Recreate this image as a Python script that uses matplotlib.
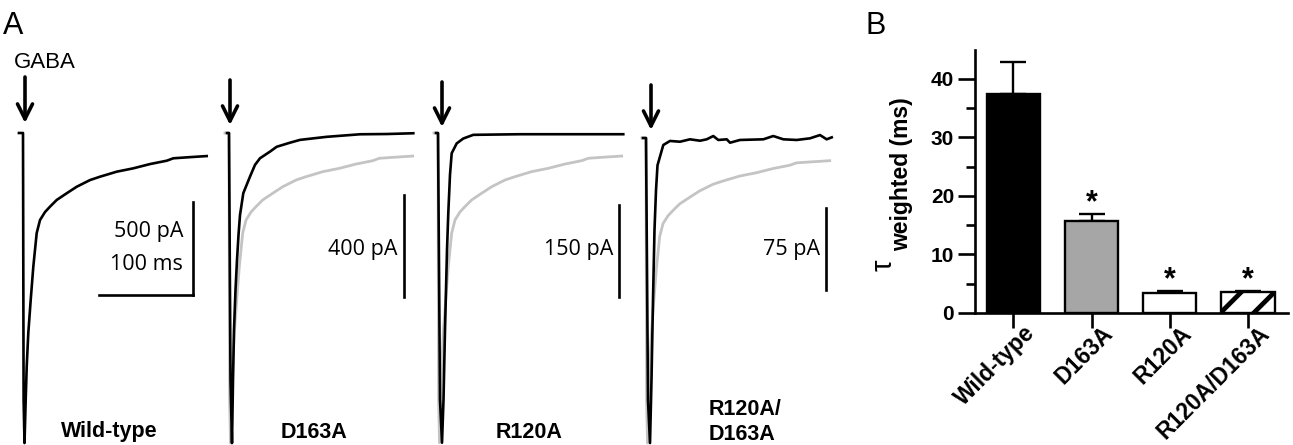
import matplotlib.pyplot as plt
import matplotlib.transforms as mtransforms
import numpy as np

W, H = 1293, 445

# ---- panel A: GABA-evoked currents (time in ms from onset, current in pA)
wt_t = [-4.3, 0, 0.64, 1.6, 2.87, 3.94, 5.64, 8.19, 10.96, 14.57, 18.09, 23.4, 28.72,
        35.85, 46.49, 57.13, 71.28, 81.91, 99.68, 117.3, 135.1, 152.9, 159.9, 174.1, 195.4]
wt_i = [0, 0, -1435, -1667, -1435, -1256, -1075, -898, -719, -538, -468, -425, -396,
        -360, -324, -289, -253, -235, -208, -190, -167, -149, -136, -131, -124]

d163a_t = [-2.13, 0, 1.6, 3.19, 4.26, 5.32, 6.91, 8.51, 10.11, 11.7, 15.21, 22.34, 27.66,
           32.98, 43.62, 50.74, 64.89, 75.53, 103.9, 139.4, 167.8, 196.1]
d163a_i = [0, 0, -969, -1216, -969, -773, -616, -498, -400, -322, -236, -171, -125,
           -99, -73, -54, -38, -27, -15, -5, -4, -1]

r120a_t = [-2.13, 0, 2.13, 4.26, 5.85, 7.45, 9.57, 10.96, 12.77, 14.57, 19.89, 26.91,
           37.55, 87.23, 197.1]
r120a_i = [0, 0, -435, -505, -435, -321, -191, -130, -68, -33, -17, -9, -3, -2, -2]

double_t = [-3.19, 0, 2.13, 4.26, 5.85, 7.45, 9.04, 10.64, 12.23, 14.89, 18.4, 25.53,
            36.17, 46.81, 57.45, 64.57, 71.6, 76.9, 85.9, 89.4, 100, 124.8, 135.4,
            146.1, 160.3, 174.5, 185.1, 192.2, 197.6]
double_i = [0, 0, -240, -279, -221, -148, -84, -48, -25, -17, -6.4, -2.7,
            -3.4, -1.2, -2.5, -1.2, 1.8, -1.8, -1.2, -4.3, -1.8, -1.2, 1.8,
            -1.2, -1.8, -0.3, 2.7, -1.2, 0.6]

trace_names = ["Wild-type", "D163A", "R120A", "R120A/\nD163A"]
scale_pa = [500, 400, 150, 75]
scale_ms = 100

# ---- panel B: weighted decay time constants
groups = ["Wild-type", "D163A", "R120A", "R120A/D163A"]
tau_mean = [37.5, 15.8, 3.5, 3.6]
tau_sem = [5.4, 1.1, 0.2, 0.2]
signif = [False, True, True, True]

plt.rcParams['font.family'] = ['Liberation Sans', 'DejaVu Sans']
plt.rcParams['hatch.linewidth'] = 3.4

fig = plt.figure(figsize=(W / 100, H / 100), dpi=100)


def px_axes(left, top, width, height):
    return fig.add_axes([left / W, 1 - (top + height) / H, width / W, height / H])


# layout of the four recordings (pixel onset, pixel baseline, pixel length of pA bar)
onset_px = [23, 229, 438, 646]
base_px = [133, 133, 133, 138]
bar_px = [93, 102, 92, 82]
bar_t = [181, 186, 192.6, 191.5]
bar_low_px = [295, 297, 297, 290]
ms_per_px = 1 / 0.94

traces = [(wt_t, wt_i), (d163a_t, d163a_i), (r120a_t, r120a_i), (double_t, double_i)]
wt_peak = min(wt_i)
for k, (tt, ii) in enumerate(traces):
    pa_per_px = scale_pa[k] / bar_px[k]
    ax = px_axes(onset_px[k] - 12, 60, 230, H - 60)
    ax.set_xlim(-12 * ms_per_px, 218 * ms_per_px)
    ax.set_ylim(-(H - base_px[k]) * pa_per_px, (base_px[k] - 60) * pa_per_px)
    ax.axis('off')
    if k > 0:
        # wild-type trace scaled to this mutant's peak
        grey = np.array(wt_i) * min(ii) / wt_peak
        ax.plot(wt_t, grey, color='#c4c4c4', lw=2.0, zorder=1)
    ax.plot(tt, ii, color='black', lw=1.9, zorder=2, solid_joinstyle='round')
    low = -(bar_low_px[k] - base_px[k]) * pa_per_px
    ax.plot([bar_t[k], bar_t[k]], [low, low + scale_pa[k]], color='black', lw=1.9)
    if k == 0:
        ax.plot([bar_t[k] - scale_ms, bar_t[k]], [low, low], color='black', lw=1.9)

# overlay in pixel coordinates for labels and arrows
ov = fig.add_axes([0, 0, 1, 1])
ov.set_xlim(0, W)
ov.set_ylim(H, 0)
ov.axis('off')

ov.text(3, 26, "A", fontsize=22, va='center', ha='left')
ov.text(865, 26, "B", fontsize=22, va='center', ha='left')
ov.text(45, 62, "GABA", fontsize=16, va='center', ha='center')

arrow_x = [25, 230, 442, 651]
arrow_top = [77, 80, 82, 85]
arrow_tip = [123, 125, 127, 130]
for ax_, top_, tip_ in zip(arrow_x, arrow_top, arrow_tip):
    ov.annotate("", xy=(ax_, tip_), xytext=(ax_, top_),
                arrowprops=dict(arrowstyle='->', lw=2.6, color='black',
                                mutation_scale=27, shrinkA=0, shrinkB=0))

scale_txt = [("500 pA", 183, 231), ("100 ms", 183, 264), ("400 pA", 397, 249),
             ("150 pA", 613, 249), ("75 pA", 820, 249)]
for s, xx, yy in scale_txt:
    ov.text(xx, yy, s, fontsize=15.5, ha='right', va='center', family=['Open Sans', 'DejaVu Sans'])

name_pos = [(61, 432), (281, 432), (496, 432), (709, 422)]
for name, (xx, yy) in zip(trace_names, name_pos):
    ov.text(xx, yy, name, fontsize=15.5, fontweight='bold', ha='left', va='center',
            linespacing=1.25)

# ---- panel B
axb = px_axes(975, 49.7, 313, 263.3)
x = np.arange(len(groups))
bars = axb.bar(x, tau_mean, width=0.68, color=['black', '#a6a6a6', 'white', 'white'],
               edgecolor='black', linewidth=1.7, zorder=2)
bars[3].set_hatch('/')
axb.errorbar(x, tau_mean, yerr=[np.zeros(len(x)), tau_sem], fmt='none', ecolor='black',
             elinewidth=1.7, capsize=9.5, capthick=1.7, zorder=1)
for xi, m, e, s in zip(x, tau_mean, tau_sem, signif):
    if s:
        axb.annotate("*", (xi, m + e), xytext=(0, -3), textcoords='offset points',
                     ha='center', va='bottom', fontsize=22, fontweight='bold')

axb.set_xlim(-0.49, 3.51)
axb.set_ylim(0, 45)
for sp in ['top', 'right']:
    axb.spines[sp].set_visible(False)
for sp in ['left', 'bottom']:
    axb.spines[sp].set_linewidth(1.9)
axb.set_yticks([0, 10, 20, 30, 40])
axb.set_yticks([5, 15, 25, 35], minor=True)
axb.tick_params(axis='y', which='major', length=12, width=1.9, pad=3, labelsize=15)
axb.tick_params(axis='y', which='minor', length=6.5, width=1.9)
axb.tick_params(axis='x', length=11, width=1.9, pad=1, labelsize=16.5)
for lab in axb.get_yticklabels():
    lab.set_fontweight('bold')
axb.set_xticks(x)
axb.set_xticklabels(groups, rotation=45, ha='right', va='center', rotation_mode='anchor',
                    fontweight='bold')
shift = mtransforms.ScaledTranslation(0.18, 0, fig.dpi_scale_trans)
for lab in axb.get_xticklabels():
    lab.set_transform(lab.get_transform() + shift)

ov.text(884, 265, "τ", fontsize=21, rotation=90, ha='center', va='center')
ov.text(902, 174, "weighted (ms)", fontsize=16.5, fontweight='bold', rotation=90,
        ha='center', va='center')

fig.savefig("out.png", dpi=100)
